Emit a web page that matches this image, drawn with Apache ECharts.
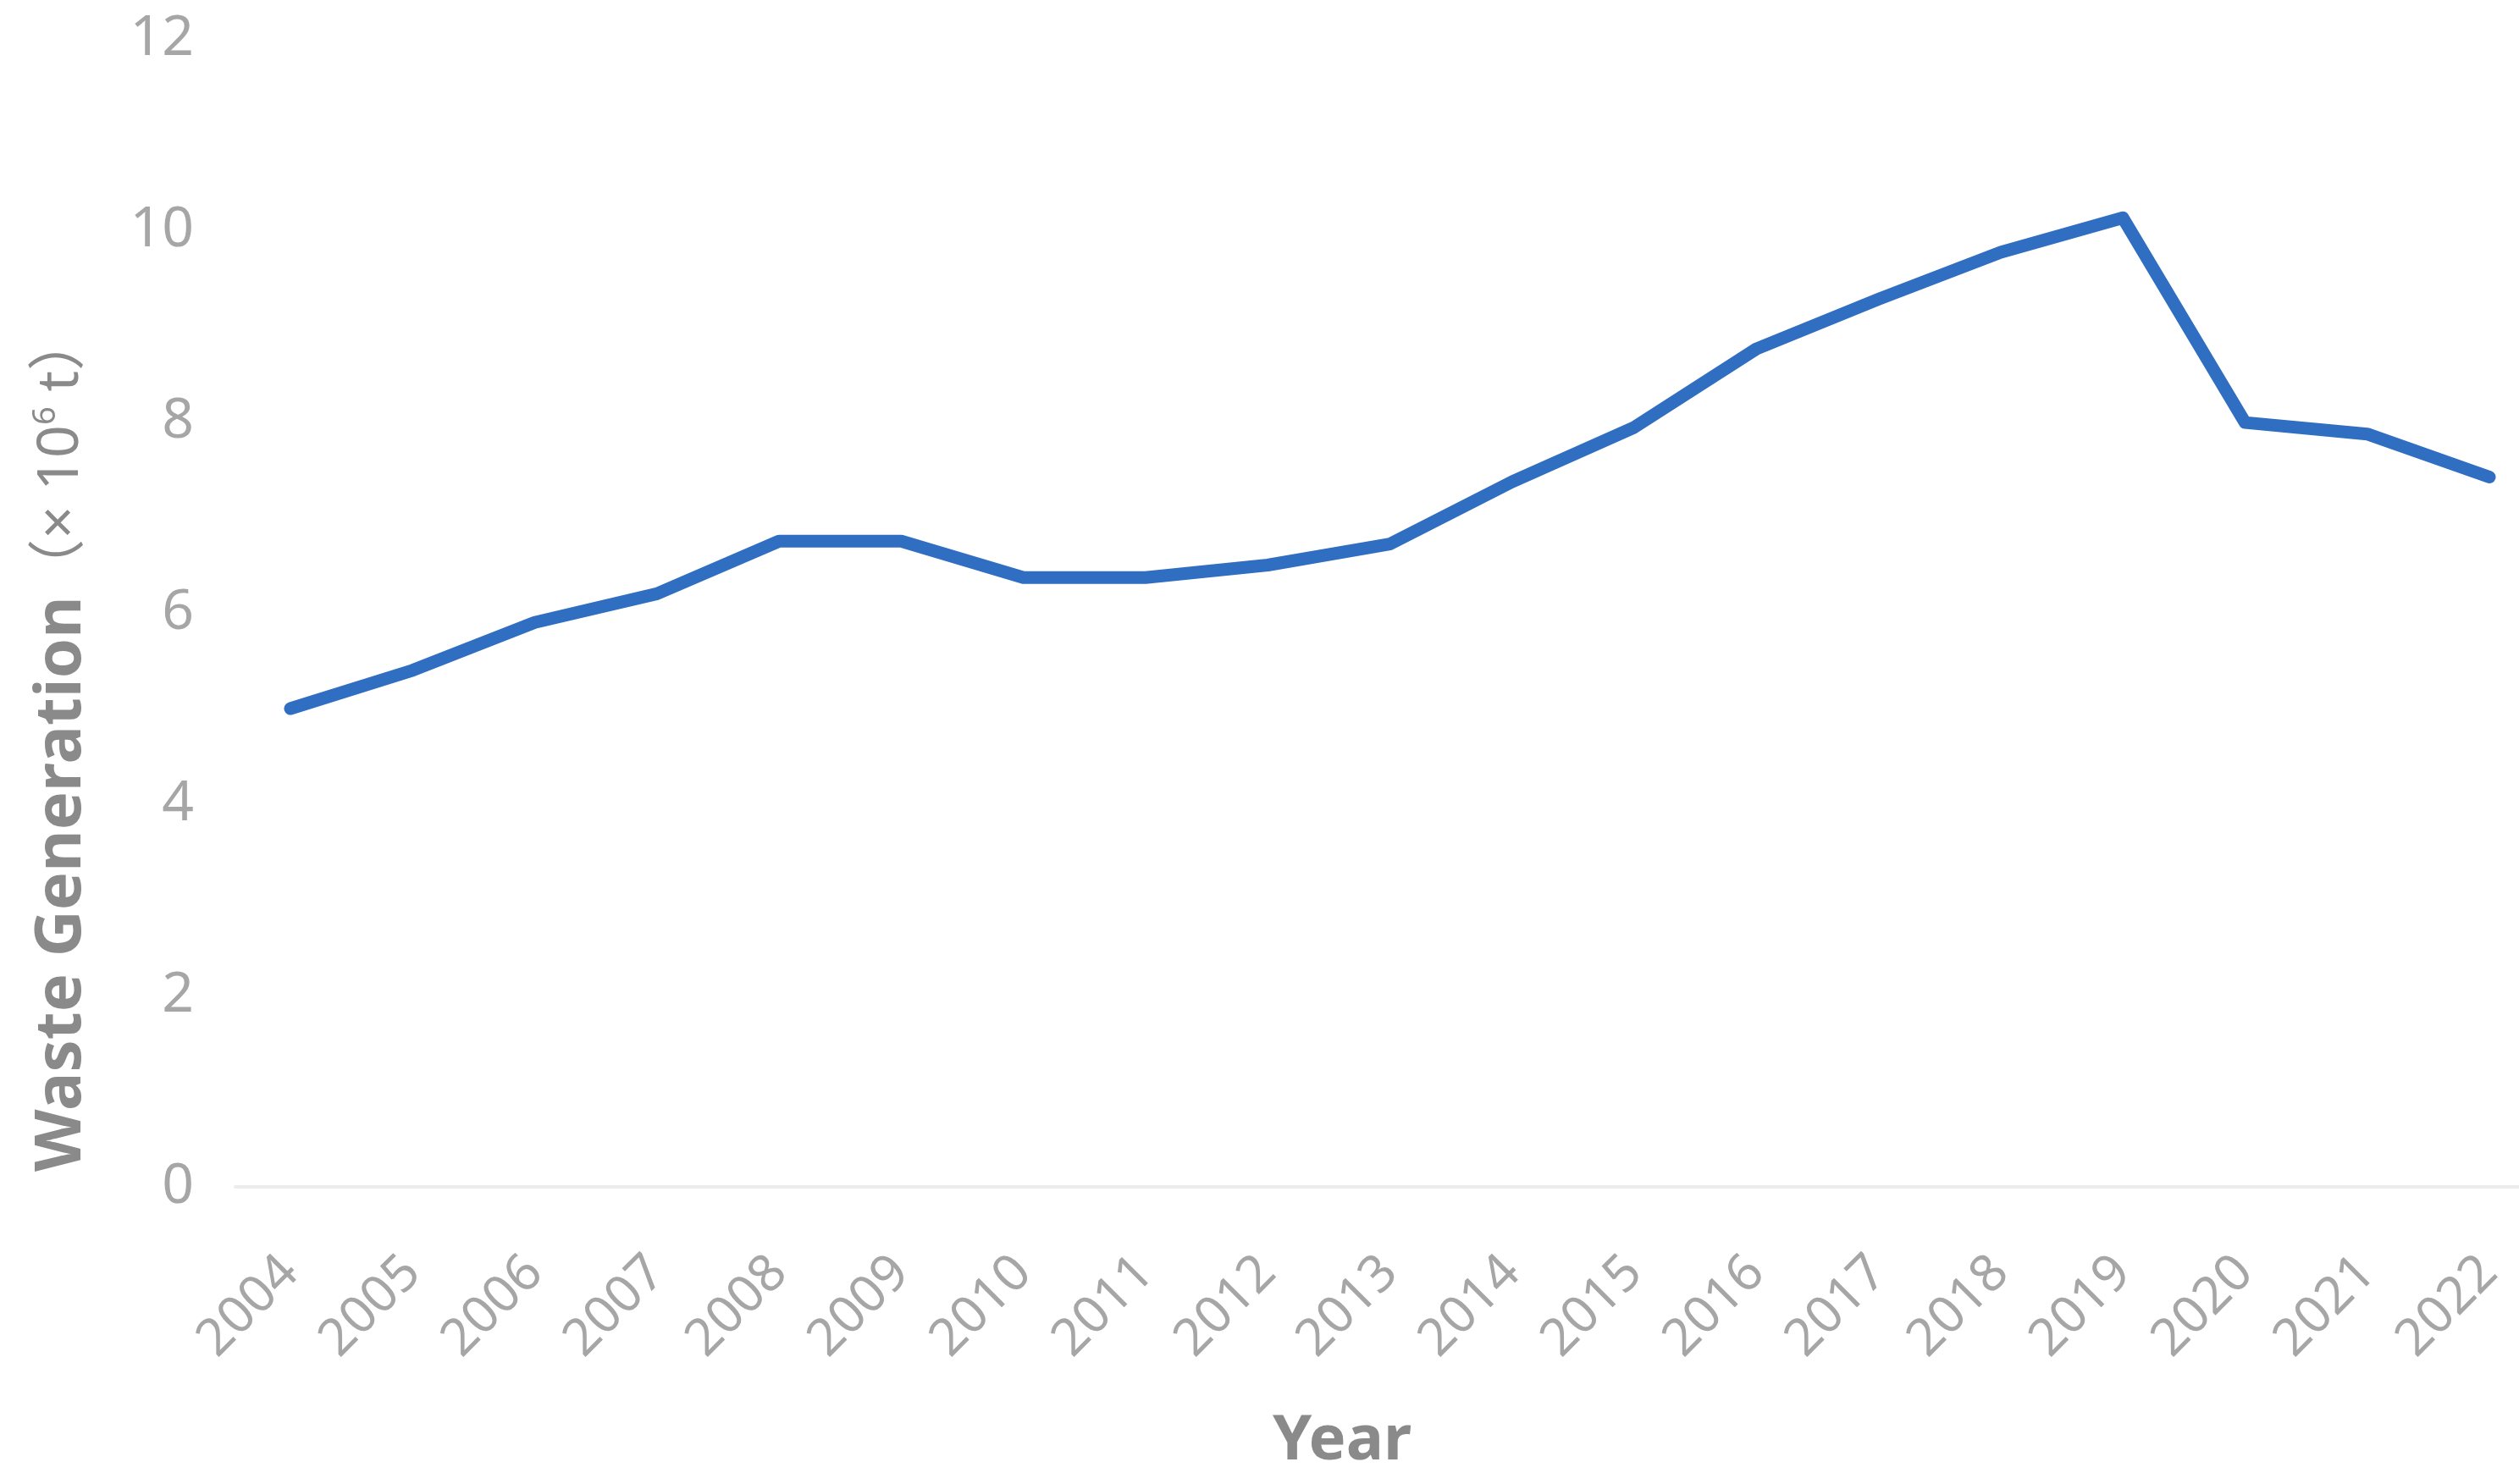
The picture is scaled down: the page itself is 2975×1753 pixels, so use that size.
<!DOCTYPE html>
<html>
<head>
<meta charset="utf-8">
<script src="https://cdn.jsdelivr.net/npm/echarts@6/dist/echarts.min.js"></script>
<style>
html,body{margin:0;padding:0;background:#fff;}
#chart{width:2975px;height:1753px;}
</style>
</head>
<body>
<div id="chart"></div>
<script>
var years = ['2004','2005','2006','2007','2008','2009','2010','2011','2012','2013','2014','2015','2016','2017','2018','2019','2020','2021','2022'];
var wasteGeneration = [5.0, 5.4, 5.9, 6.2, 6.75, 6.75, 6.37, 6.37, 6.5, 6.72, 7.37, 7.94, 8.76, 9.28, 9.77, 10.13, 7.99, 7.87, 7.42];
var yTicks = [0, 2, 4, 6, 8, 10, 12];
var xTitle = 'Year';
var yTitleMain = 'Waste Generation';

var chart = echarts.init(document.getElementById('chart'));
var option = {
  backgroundColor: '#ffffff',
  animation: false,
  grid: [
    {left: 343, top: 46, bottom: 351, right: 35, containLabel: false},
    {left: 278, top: 46, bottom: 351, right: 0, containLabel: false}
  ],
  xAxis: [{
    type: 'category',
    gridIndex: 0,
    data: years,
    boundaryGap: false,
    axisLine: {show: false},
    axisTick: {show: false},
    splitLine: {show: false},
    axisLabel: {
      rotate: 45,
      margin: 92,
      color: '#a6a6a6',
      fontSize: 61,
      fontFamily: 'Noto Sans',
      interval: 0
    }
  }, {
    type: 'category',
    gridIndex: 1,
    data: [''],
    axisLine: {show: true, lineStyle: {color: '#ececec', width: 4}},
    axisTick: {show: false},
    axisLabel: {show: false},
    splitLine: {show: false}
  }],
  yAxis: [{
    type: 'value',
    gridIndex: 0,
    min: yTicks[0],
    max: yTicks[yTicks.length - 1],
    interval: 2,
    axisLine: {show: false},
    axisTick: {show: false},
    splitLine: {show: false},
    axisLabel: {
      margin: 114,
      color: '#a6a6a6',
      fontSize: 66,
      fontFamily: 'Noto Sans'
    }
  }, {
    type: 'value',
    gridIndex: 1,
    min: 0, max: 12,
    show: false
  }],
  series: [{
    type: 'line',
    xAxisIndex: 0,
    yAxisIndex: 0,
    data: wasteGeneration,
    symbol: 'none',
    lineStyle: {color: '#2f6ec1', width: 15, cap: 'round', join: 'round'},
    itemStyle: {color: '#2f6ec1'}
  }],
  graphic: [
    {
      type: 'text',
      x: 73, y: 877,
      rotation: Math.PI / 2,
      style: {
        text: '{b|' + yTitleMain + '}{r|（× 10}{s|6}{r| t）}',
        align: 'center',
        verticalAlign: 'middle',
        rich: {
          b: {fontSize: 76, fontWeight: 'bold', fill: '#8a8a8a', fontFamily: 'Noto Sans'},
          r: {fontSize: 68, fill: '#8a8a8a', fontFamily: 'Noto Sans, Noto Sans CJK SC'},
          s: {fontSize: 38, fill: '#8a8a8a', fontFamily: 'Noto Sans', verticalAlign: 'top', padding: [0,0,26,0]}
        }
      }
    },
    {
      type: 'text',
      x: 1585, y: 1703,
      style: {
        text: xTitle,
        align: 'center',
        verticalAlign: 'middle',
        fontSize: 74,
        fontWeight: 'bold',
        fill: '#8a8a8a',
        fontFamily: 'Noto Sans'
      }
    }
  ]
};
chart.setOption(option);
</script>
</body>
</html>
